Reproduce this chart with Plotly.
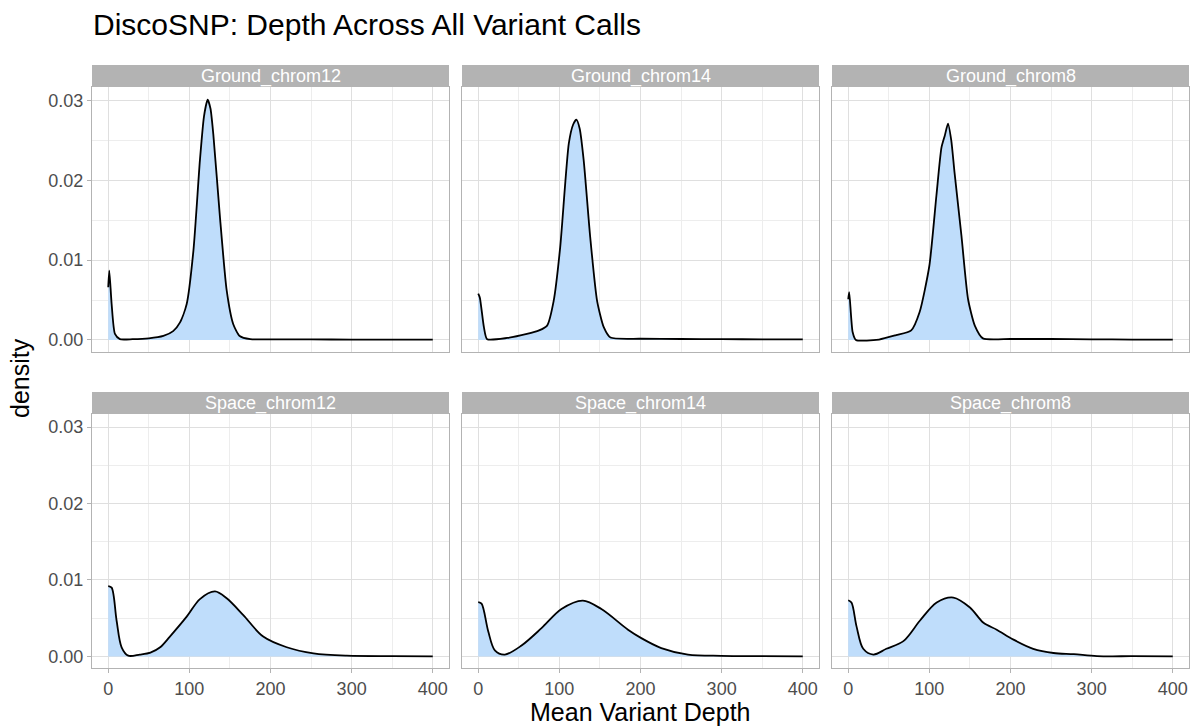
import plotly.graph_objects as go

# ---------------- data (density values in units of 1e-3) ----------------
panel_names = ["Ground_chrom12", "Ground_chrom14", "Ground_chrom8",
               "Space_chrom12", "Space_chrom14", "Space_chrom8"]

g12_x = [0, 1.3, 4.2, 8.3, 14.4, 30, 50, 68, 80, 88.5, 96.7, 105, 113, 118, 122.5, 126, 129.5, 137.7, 146, 154, 162, 175, 200, 250, 300, 350, 400]
g12_y = [6.6, 8.7, 4.5, 0.75, 0.1, 0.1, 0.2, 0.5, 1.1, 2.2, 4.5, 11.2, 22.5, 28.0, 30.1, 29.0, 25.8, 15.4, 6.2, 2.0, 0.5, 0.1, 0.08, 0.06, 0.05, 0.04, 0.03]

g14_x = [0, 2, 7, 11, 35.7, 60, 75, 84.9, 93, 101, 111.6, 117, 121, 125, 130, 138, 146.5, 154.7, 163, 200, 250, 300, 350, 400]
g14_y = [5.8, 5.3, 1.6, 0.1, 0.25, 0.75, 1.2, 1.8, 4.9, 11.6, 24.6, 27.0, 27.6, 26.5, 22.5, 12.9, 4.9, 1.6, 0.3, 0.15, 0.12, 0.1, 0.08, 0.07]

g8_x = [0, 1.2, 5.4, 9.5, 38, 59, 77.6, 88, 100, 108.7, 114.9, 119, 123, 127, 131, 139.5, 147.7, 156, 166, 200, 250, 300, 350, 400]
g8_y = [5.1, 6.0, 1.0, 0.0, 0.05, 0.6, 1.2, 3.5, 9.3, 18.1, 24.1, 25.6, 27.1, 25.0, 21.0, 13.1, 5.1, 1.8, 0.2, 0.12, 0.12, 0.08, 0.05, 0.04]

s12_x = [0, 4.2, 10.3, 16.5, 24.7, 39, 52, 64, 76, 96.7, 113, 131.6, 146, 166.5, 191, 220, 253, 294, 350, 400]
s12_y = [9.2, 9.0, 4.7, 1.2, 0.1, 0.25, 0.5, 1.2, 2.6, 5.2, 7.5, 8.5, 7.6, 5.4, 2.6, 1.2, 0.4, 0.1, 0.04, 0.02]

s14_x = [0, 4.1, 12.3, 20.5, 32.8, 53, 78, 102.6, 129, 151.8, 184.6, 201, 225.6, 258.5, 299.5, 350, 400]
s14_y = [7.1, 6.9, 3.3, 0.8, 0.25, 1.4, 3.7, 6.2, 7.3, 6.2, 3.5, 2.4, 1.1, 0.25, 0.08, 0.04, 0.02]

s8_x = [0, 4, 10.3, 18.5, 31, 47, 68, 88.5, 109, 129.6, 150, 166.7, 183, 203.7, 228, 253, 278, 306.6, 350, 400]
s8_y = [7.35, 7.05, 3.9, 1.0, 0.25, 1.0, 2.0, 4.7, 7.05, 7.7, 6.4, 4.4, 3.5, 2.2, 1.0, 0.45, 0.3, 0.05, 0.03, 0.02]

panel_x = [g12_x, g14_x, g8_x, s12_x, s14_x, s8_x]
panel_y = [g12_y, g14_y, g8_y, s12_y, s14_y, s8_y]

x_ticks = [0, 100, 200, 300, 400]
y_ticks = [0.0, 0.01, 0.02, 0.03]
y_tick_text = ["0.00", "0.01", "0.02", "0.03"]

# ---------------- layout geometry ----------------
W, H = 1191, 727
cols = [(92, 449), (462, 819), (832, 1189)]
rows = [(87, 352), (414, 668)]
strip_h = 22

FILL = "#BFDDFB"
GRID = "#DFDFDF"
MINOR = "#EDEDED"
BORDER = "#B3B3B3"
TICKTXT = "#4D4D4D"
FONT = "Liberation Sans, Arial, sans-serif"

fig = go.Figure()
shapes = []
annotations = []

for i in range(6):
    r, c = divmod(i, 3)
    ax = "" if i == 0 else str(i + 1)
    xd = [cols[c][0] / W, cols[c][1] / W]
    yd = [1 - rows[r][1] / H, 1 - rows[r][0] / H]
    xs = panel_x[i]
    ys = [v / 1000.0 for v in panel_y[i]]
    fig.add_trace(go.Scatter(
        x=xs, y=ys, mode="lines", fill="tozeroy", fillcolor=FILL,
        line=dict(color="black", width=1.8, shape="spline",
                  smoothing=0.6 if r == 0 else 0.9),
        xaxis="x" + ax, yaxis="y" + ax, showlegend=False, hoverinfo="skip"))
    show_x = (r == 1)
    show_y = (c == 0)
    fig.update_layout(**{
        "xaxis" + ax: dict(
            domain=xd, range=[-20, 420], anchor="y" + ax,
            tickvals=x_ticks, ticktext=[str(t) for t in x_ticks],
            showticklabels=show_x, ticks="outside" if show_x else "",
            ticklen=4, tickcolor=BORDER, tickwidth=1,
            tickfont=dict(family=FONT, size=18, color=TICKTXT),
            showgrid=True, gridcolor=GRID, gridwidth=1,
            minor=dict(tickvals=[50, 150, 250, 350], showgrid=True,
                       gridcolor=MINOR, gridwidth=1),
            showline=True, mirror=True, linecolor=BORDER, linewidth=1,
            zeroline=False, fixedrange=True),
        "yaxis" + ax: dict(
            domain=yd, range=[-0.00151, 0.0317], anchor="x" + ax,
            tickvals=y_ticks, ticktext=y_tick_text,
            showticklabels=show_y, ticks="outside" if show_y else "",
            ticklen=4, tickcolor=BORDER, tickwidth=1,
            tickfont=dict(family=FONT, size=18, color=TICKTXT),
            showgrid=True, gridcolor=GRID, gridwidth=1,
            minor=dict(tickvals=[0.005, 0.015, 0.025], showgrid=True,
                       gridcolor=MINOR, gridwidth=1),
            showline=True, mirror=True, linecolor=BORDER, linewidth=1,
            zeroline=False, fixedrange=True),
    })
    # strip
    top = rows[r][0] - strip_h
    shapes.append(dict(type="rect", xref="paper", yref="paper",
                       x0=cols[c][0] / W, x1=cols[c][1] / W,
                       y0=1 - rows[r][0] / H, y1=1 - top / H,
                       fillcolor=BORDER, line=dict(width=0), layer="above"))
    annotations.append(dict(text=panel_names[i], xref="paper", yref="paper",
                            x=(cols[c][0] + cols[c][1]) / 2 / W,
                            y=1 - (top + strip_h / 2) / H,
                            xanchor="center", yanchor="middle", showarrow=False,
                            font=dict(family=FONT, size=18, color="white")))

annotations.append(dict(text="Mean Variant Depth", xref="paper", yref="paper",
                        x=(cols[0][0] + cols[2][1]) / 2 / W, y=1 - 712 / H,
                        xanchor="center", yanchor="middle", showarrow=False,
                        font=dict(family=FONT, size=25, color="black")))
annotations.append(dict(text="density", xref="paper", yref="paper",
                        x=20 / W, y=1 - 378 / H, textangle=-90,
                        xanchor="center", yanchor="middle", showarrow=False,
                        font=dict(family=FONT, size=25, color="black")))
annotations.append(dict(text="DiscoSNP: Depth Across All Variant Calls",
                        xref="paper", yref="paper", x=91 / W, y=1 - 25 / H,
                        xanchor="left", yanchor="middle", showarrow=False,
                        font=dict(family=FONT, size=30, color="black")))

fig.update_layout(width=W, height=H, margin=dict(l=0, r=0, t=0, b=0),
                  paper_bgcolor="white", plot_bgcolor="white",
                  shapes=shapes, annotations=annotations)

fig.write_html("out.html")
